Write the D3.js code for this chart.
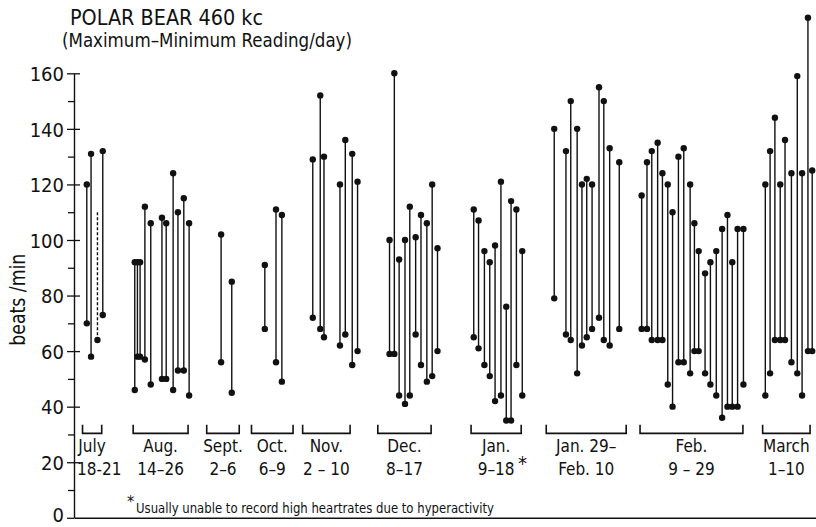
<!DOCTYPE html>
<html>
<head>
<meta charset="utf-8">
<script src="https://cdn.jsdelivr.net/npm/d3@7"></script>
<style>
  body { margin: 0; background: #fff; }
  svg { display: block; }
  text { font-family: "DejaVu Sans Condensed", "Liberation Sans Narrow", sans-serif; fill: #111; }
</style>
</head>
<body>
<script>
// periods shown under the chart
const groupLabels = ["July", "Aug.", "Sept.", "Oct.", "Nov.", "Dec.", "Jan.", "Jan. 29\u2013", "Feb.", "March"];
const groupDates = ["18-21", "14\u201326", "2\u20136", "6\u20139", "2 \u2013 10", "8\u201317", "9\u201318", "Feb. 10", "9 \u2013 29", "1\u201310"];
// bracket extent on the (compressed) day axis
const groupFrom = [1.6, 11.1, 24.9, 33.3, 42.9, 57.0, 74.5, 88.6, 106.2, 129.2];
const groupTo = [5.2, 21.4, 31.0, 41.1, 51.8, 67.0, 83.9, 103.6, 125.5, 138.1];

// one entry per recorded day: position on compressed day axis, max and min beats/min
const dayPos = [
  2.4, 3.2, 4.4, 5.4,
  11.4, 11.9, 12.4, 13.3, 14.4, 16.5, 17.3, 18.6, 19.5, 20.6, 21.6,
  27.6, 29.6,
  35.8, 37.9, 39.0,
  44.8, 46.2, 46.9, 49.9, 50.9, 52.2, 53.2,
  59.2, 60.1, 61.0, 62.1, 63.0, 64.1, 65.1, 66.2, 67.2, 68.2,
  75.0, 75.9, 77.0, 78.0, 79.0, 80.1, 81.1, 82.0, 83.0, 84.1,
  90.1, 92.3, 93.2, 94.4, 95.3, 96.2, 97.2, 98.5, 99.4, 100.5, 102.3,
  106.5, 107.5, 108.4, 109.5, 110.4, 111.4, 112.3, 113.4, 114.4, 115.6,
  116.4, 117.2, 118.4, 119.4, 120.5, 121.6, 122.6, 123.5, 124.5, 125.6,
  129.7, 130.6, 131.5, 132.5, 133.4, 134.6, 135.7, 136.6, 137.7, 138.5
];
const maxBpm = [
  120, 131, 110, 132,
  92, 92, 92, 112, 106, 108, 106, 124, 110, 115, 106,
  102, 85,
  91, 111, 109,
  129, 152, 130, 120, 136, 131, 121,
  100, 160, 93, 100, 112, 101, 109, 106, 120, 97,
  111, 107, 96, 92, 98, 121, 76, 114, 111, 96,
  140, 132, 150, 140, 120, 122, 120, 155, 150, 133, 128,
  116, 128, 132, 135, 124, 120, 110, 130, 133, 120,
  106, 96, 88, 92, 96, 104, 109, 92, 104, 104,
  120, 132, 144, 120, 136, 124, 159, 124, 180, 125
];
const minBpm = [
  70, 58, 64, 73,
  46, 58, 58, 57, 48, 50, 50, 46, 53, 53, 44,
  56, 45,
  68, 56, 49,
  72, 68, 65, 62, 66, 55, 60,
  59, 59, 44, 41, 44, 66, 55, 49, 51, 60,
  65, 61, 55, 51, 42, 44, 35, 35, 55, 44,
  79, 66, 64, 52, 62, 65, 68, 72, 64, 62, 68,
  68, 68, 64, 64, 64, 48, 40, 56, 56, 52,
  60, 60, 52, 48, 44, 36, 40, 40, 40, 48,
  44, 52, 64, 64, 64, 56, 52, 44, 60, 60
];
// July 20: high not recorded, drawn dashed
const dashedDays = [2];

const yTicks = [0, 20, 40, 60, 80, 100, 120, 140, 160];
const yMinorTicks = [10, 30, 50, 70, 90, 110, 130, 150];

const width = 816, height = 527;
const svg = d3.select("body").append("svg")
  .attr("width", width)
  .attr("height", height);

const x = d3.scaleLinear().domain([0, 140]).range([74, 820.2]);
const y = d3.scaleLinear().domain([0, 160]).range([517.8, 73.3]);

// titles
svg.append("text")
  .attr("x", 70).attr("y", 25)
  .attr("textLength", 193).attr("lengthAdjust", "spacingAndGlyphs")
  .style("font-size", "22px")
  .text("POLAR BEAR  460 kc");
svg.append("text")
  .attr("x", 62).attr("y", 47)
  .attr("textLength", 290).attr("lengthAdjust", "spacingAndGlyphs")
  .style("font-size", "19px")
  .text("(Maximum\u2013Minimum Reading/day)");

// y axis: major ticks cross the line, minor ticks on the left
const yAxis = svg.append("g")
  .attr("transform", "translate(" + x(0) + ",0)")
  .call(d3.axisLeft(y).tickValues(yTicks).tickSize(7).tickPadding(3).tickSizeOuter(0).tickFormat(d3.format("d")));
yAxis.selectAll("text")
  .style("font-size", "20px")
  .attr("dy", d => d === 0 ? "0.2em" : "0.36em");
yAxis.select(".domain").attr("stroke", "#111").attr("stroke-width", 1.4);
yAxis.selectAll(".tick line").attr("stroke", "#111").attr("stroke-width", 1.3);

svg.append("g")
  .attr("transform", "translate(" + x(0) + ",0)")
  .call(d3.axisRight(y).tickValues(yTicks.filter(d => d > 0)).tickSize(6).tickFormat("").tickSizeOuter(0))
  .call(g => g.select(".domain").remove())
  .selectAll(".tick line").attr("stroke", "#111").attr("stroke-width", 1.3);

svg.append("g")
  .attr("transform", "translate(" + x(0) + ",0)")
  .call(d3.axisLeft(y).tickValues(yMinorTicks).tickSize(6).tickFormat("").tickSizeOuter(0))
  .call(g => g.select(".domain").remove())
  .selectAll(".tick line").attr("stroke", "#111").attr("stroke-width", 1.3);

svg.append("text")
  .attr("transform", "translate(25," + y(78.5) + ") rotate(-90)")
  .attr("text-anchor", "middle")
  .attr("textLength", 92).attr("lengthAdjust", "spacingAndGlyphs")
  .style("font-size", "21px")
  .text("beats /min");

// baseline
svg.append("g")
  .attr("transform", "translate(0," + y(0) + ")")
  .call(d3.axisBottom(x).tickValues([]).tickSizeOuter(0))
  .select(".domain").attr("stroke", "#111").attr("stroke-width", 1.4);

// daily ranges
const days = dayPos.map((p, i) => ({ p: p, hi: maxBpm[i], lo: minBpm[i], dashed: dashedDays.includes(i) }));

svg.append("g").selectAll("line")
  .data(days)
  .join("line")
  .attr("x1", d => x(d.p)).attr("x2", d => x(d.p))
  .attr("y1", d => y(d.hi)).attr("y2", d => y(d.lo))
  .attr("stroke", "#111")
  .attr("stroke-width", 1.4)
  .attr("stroke-dasharray", d => d.dashed ? "3,2" : null);

svg.append("g").selectAll("circle")
  .data(days.filter(d => !d.dashed))
  .join("circle")
  .attr("cx", d => x(d.p)).attr("cy", d => y(d.hi))
  .attr("r", 3.2).attr("fill", "#111");

svg.append("g").selectAll("circle")
  .data(days)
  .join("circle")
  .attr("cx", d => x(d.p)).attr("cy", d => y(d.lo))
  .attr("r", 3.2).attr("fill", "#111");

// period brackets and labels
const groups = groupLabels.map((l, i) => ({ label: l, dates: groupDates[i], from: groupFrom[i], to: groupTo[i] }));
const gg = svg.append("g").selectAll("g")
  .data(groups)
  .join("g");

gg.append("path")
  .attr("d", d => "M" + x(d.from) + "," + y(33.5) + "V" + y(30.4) + "H" + x(d.to) + "V" + y(33.5))
  .attr("fill", "none")
  .attr("stroke", "#111")
  .attr("stroke-width", 1.6);

gg.append("text")
  .attr("class", "lab")
  .attr("x", d => (x(d.from) + x(d.to)) / 2)
  .attr("y", y(23.6))
  .attr("text-anchor", "middle")
  .style("font-size", "17px")
  .text(d => d.label);

gg.append("text")
  .attr("class", "lab")
  .attr("x", d => (x(d.from) + x(d.to)) / 2)
  .attr("y", y(15.3))
  .attr("text-anchor", "middle")
  .style("font-size", "17px")
  .text(d => d.dates);

// keep labels clear of the y axis
gg.selectAll("text.lab").each(function() {
  const b = this.getBBox();
  const minX = x(0) + 3;
  if (b.x < minX) d3.select(this).attr("x", +d3.select(this).attr("x") + (minX - b.x));
});

// footnote marker for January
svg.append("text")
  .attr("x", x(83.3)).attr("y", y(17.3))
  .style("font-size", "20px")
  .text("*");

svg.append("text")
  .attr("x", 127).attr("y", 507)
  .style("font-size", "16px")
  .text("*");
svg.append("text")
  .attr("x", 136).attr("y", 513)
  .attr("textLength", 358).attr("lengthAdjust", "spacingAndGlyphs")
  .style("font-size", "14px")
  .text("Usually unable to record high heartrates due to hyperactivity");
</script>
</body>
</html>
